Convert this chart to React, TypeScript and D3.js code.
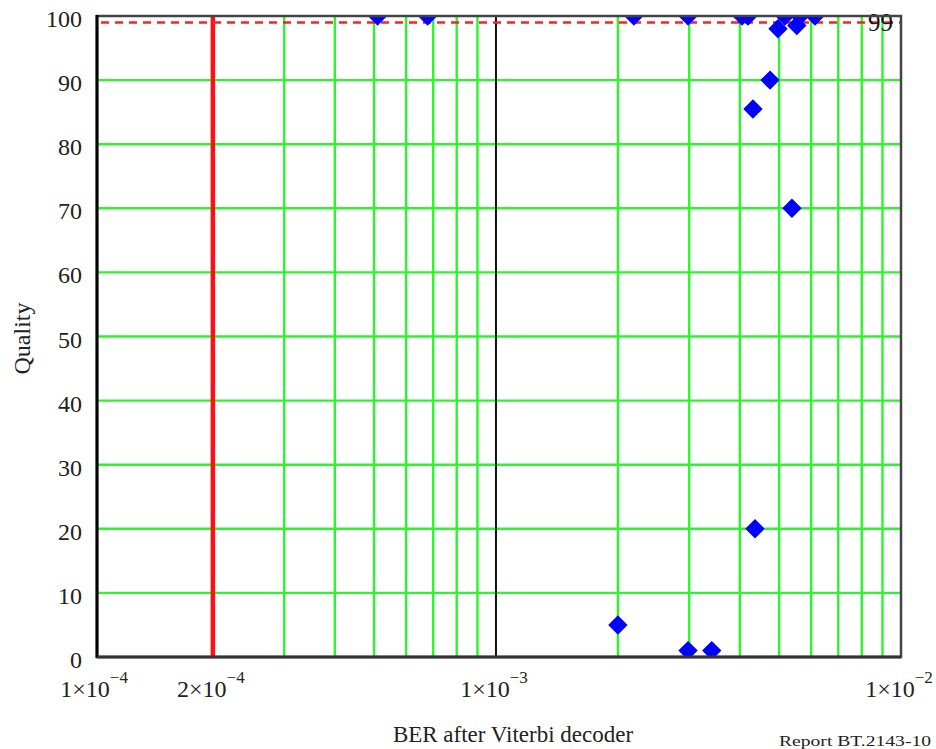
import React from "react";
import * as d3 from "d3";

const yTicks = [0, 10, 20, 30, 40, 50, 60, 70, 80, 90, 100];
const xMinorGrid = [3e-4, 4e-4, 5e-4, 6e-4, 7e-4, 8e-4, 9e-4, 2e-3, 3e-3, 4e-3, 5e-3, 6e-3, 7e-3, 8e-3, 9e-3];
const xLabels = [
  { v: 1.03e-4, m: "1", e: "−4" },
  { v: 2e-4, m: "2", e: "−4" },
  { v: 1e-3, m: "1", e: "−3" },
  { v: 1e-2, m: "1", e: "−2" },
];
const berValues = [5.1e-4, 6.78e-4, 2.19e-3, 2.98e-3, 4.05e-3, 4.19e-3, 4.97e-3, 5.17e-3, 5.53e-3, 5.63e-3, 6.13e-3, 4.31e-3, 4.75e-3, 5.38e-3, 4.36e-3, 2.0e-3, 2.98e-3, 3.41e-3];
const qualityValues = [100, 100, 100, 100, 100, 100, 98, 100, 98.5, 100, 100, 85.5, 90, 70, 20, 5, 1, 1];
const thresholdQuality = 99;
const thresholdBer = 2e-4;

export default function App() {
  const W = 936, H = 749;
  const left = 97, right = 901, top = 16, bottom = 657;
  const x = d3.scaleLog().domain([1.035e-4, 1e-2]).range([left, right]);
  const y = d3.scaleLinear().domain([0, 100]).range([bottom, top]);
  const diamond = d3.symbol().type(d3.symbolDiamond2).size(240)();
  const font = "'Liberation Serif', 'Times New Roman', serif";
  const green = "#2cf52c";
  return (
    <svg width={W} height={H} style={{ position: "absolute", left: 0, top: 0, background: "#fff" }}>
      <defs>
        <clipPath id="plotclip">
          <rect x={left} y={top} width={right - left} height={bottom - top} />
        </clipPath>
      </defs>
      {yTicks.slice(1, -1).map((t) => (
        <line key={"h" + t} x1={left} x2={right} y1={y(t)} y2={y(t)} stroke={green} strokeWidth={2.4} />
      ))}
      {xMinorGrid.map((v) => (
        <line key={"v" + v} x1={x(v)} x2={x(v)} y1={top} y2={bottom} stroke={green} strokeWidth={2.4} />
      ))}
      <line x1={x(1e-3)} x2={x(1e-3)} y1={top} y2={bottom} stroke="#111" strokeWidth={2} />
      <line x1={x(thresholdBer)} x2={x(thresholdBer)} y1={top} y2={bottom} stroke="#ff1010" strokeWidth={4.5} />
      <line x1={left + 4} x2={right} y1={y(thresholdQuality)} y2={y(thresholdQuality)} stroke="#ff2020" strokeWidth={2.5} strokeDasharray="8 6" />
      <text x={893} y={31} fontFamily={font} fontSize={25} textAnchor="end" fill="#111">{thresholdQuality}</text>
      <g clipPath="url(#plotclip)">
        {berValues.map((b, i) => (
          <path key={i} d={diamond} transform={`translate(${x(b)},${y(qualityValues[i])})`} fill="#0000ff" />
        ))}
      </g>
      <rect x={left} y={top} width={right - left} height={bottom - top} fill="none" stroke="#444" strokeWidth={2.5} />
      <line x1={left} x2={left} y1={top - 1} y2={bottom + 1} stroke="#000" strokeWidth={3} />
      <line x1={left} x2={right} y1={bottom} y2={bottom} stroke="#333" strokeWidth={3} />
      {yTicks.map((t) => (
        <text key={"yl" + t} x={82} y={y(t) + 11} fontFamily={font} fontSize={24} textAnchor="end" fill="#222">{t}</text>
      ))}
      {xLabels.map((l, i) => (
        <text key={"xl" + i} x={x(l.v) - 2} y={697} fontFamily={font} fontSize={24} textAnchor="middle" fill="#222">
          {l.m}×10
          <tspan dy={-14} fontSize={17}>{l.e}</tspan>
        </text>
      ))}
      <text transform={`translate(30,${(top + bottom) / 2 + 2}) rotate(-90)`} fontFamily={font} fontSize={24} textAnchor="middle" fill="#222">Quality</text>
      <text x={513} y={742} fontFamily={font} fontSize={23} textAnchor="middle" fill="#222">BER after Viterbi decoder</text>
      <text x={779} y={746} fontFamily={font} fontSize={15} textLength={152} lengthAdjust="spacingAndGlyphs" fill="#222">Report BT.2143-10</text>
    </svg>
  );
}
